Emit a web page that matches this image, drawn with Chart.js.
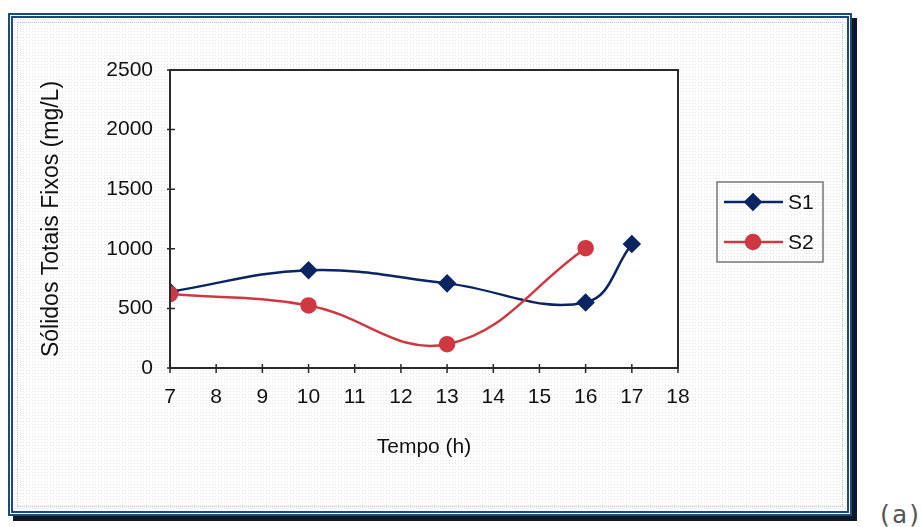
<!DOCTYPE html>
<html>
<head>
<meta charset="utf-8">
<script src="https://cdn.jsdelivr.net/npm/chart.js@4.4.1/dist/chart.umd.min.js"></script>
<style>
  html, body { margin: 0; padding: 0; background: #fff; }
  #wrap { position: relative; width: 922px; height: 527px; overflow: hidden; }
  #frame {
    position: absolute; left: 8px; top: 13px; width: 834px; height: 493px;
    border: 5px double #1d4a7a;
    box-shadow: 5px 5px 0 #0a1a2c;
    background-color: #fff;
    background-image: radial-gradient(circle, #e4e4e4 0.6px, transparent 0.9px);
    background-size: 3px 3px;
  }
  #inner {
    position: absolute; left: 4px; top: 4px; right: 4px; bottom: 4px;
    border: 1px dotted #c4c4c4;
  }
  #tag {
    position: absolute; left: 877px; top: 500px;
    font-family: "DejaVu Sans Mono", monospace; font-size: 25px; color: #555;
  }
  canvas { position: absolute; left: 0; top: 0; }
</style>
</head>
<body>
<div id="wrap">
  <div id="frame"><div id="inner"></div></div>
  <div id="tag">(a)</div>
  <canvas id="myChart" width="922" height="527"></canvas>
</div>
<script>
// Sólidos totais fixos ao longo do dia, pontos S1 e S2
var s1Hours = [7, 10, 13, 16, 17];
var s1Values = [640, 820, 710, 550, 1040];
var s2Hours = [7, 10, 13, 16];
var s2Values = [620, 525, 200, 1005];
var seriesNames = ["S1", "S2"];

var blue = "#0b2562";
var red = "#cf3840";

function toPoints(xs, ys) {
	var pts = [];
	for (var i = 0; i < xs.length; i++) {
		pts.push({ x: xs[i], y: ys[i] });
	}
	return pts;
}

var fontFamily = "'Liberation Sans', Arial, sans-serif";
var textColor = "#111";

// fundo branco da área do gráfico, moldura, marcas dos eixos e legenda
var framePlugin = {
	id: "framePlugin",
	beforeDraw: function(chart) {
		var a = chart.chartArea;
		var ctx = chart.ctx;
		ctx.save();
		ctx.fillStyle = "#fff";
		ctx.fillRect(a.left, a.top, a.right - a.left, a.bottom - a.top);
		ctx.restore();
	},
	afterDatasetsDraw: function(chart) {
		var a = chart.chartArea;
		var ctx = chart.ctx;
		var xs = chart.scales.x, ys = chart.scales.y;
		ctx.save();
		ctx.strokeStyle = "#2a2a2a";
		ctx.lineWidth = 2;
		ctx.strokeRect(a.left, a.top, a.right - a.left, a.bottom - a.top);

		ctx.lineWidth = 1.5;
		ctx.beginPath();
		ys.ticks.forEach(function(t) {
			var py = ys.getPixelForValue(t.value);
			ctx.moveTo(a.left - 3, py);
			ctx.lineTo(a.left + 5, py);
		});
		xs.ticks.forEach(function(t) {
			var px = xs.getPixelForValue(t.value);
			ctx.moveTo(px, a.bottom - 4);
			ctx.lineTo(px, a.bottom + 5);
		});
		ctx.stroke();

		// legenda
		var bx = 717, by = 182, bw = 106, bh = 80;
		ctx.strokeStyle = "#777";
		ctx.lineWidth = 1.5;
		ctx.strokeRect(bx, by, bw, bh);
		chart.data.datasets.forEach(function(ds, i) {
			var cy = by + 20 + i * 40;
			ctx.strokeStyle = ds.borderColor;
			ctx.lineWidth = 2.5;
			ctx.beginPath();
			ctx.moveTo(bx + 7, cy);
			ctx.lineTo(bx + 66, cy);
			ctx.stroke();
			ctx.fillStyle = ds.pointBackgroundColor;
			ctx.strokeStyle = ds.pointBorderColor;
			Chart.helpers.drawPoint(ctx, {
				pointStyle: ds.pointStyle,
				radius: ds.pointRadius,
				rotation: 0,
				borderWidth: 1
			}, bx + 36, cy);
			ctx.fillStyle = textColor;
			ctx.font = "21px " + fontFamily;
			ctx.textBaseline = "middle";
			ctx.textAlign = "left";
			ctx.fillText(ds.label, bx + 71, cy + 1);
		});
		ctx.restore();
	}
};

var ctx = document.getElementById("myChart");

var data = {
	datasets : [
		{
			label : seriesNames[0],
			data : toPoints(s1Hours, s1Values),
			order : 1,
			borderColor : blue,
			backgroundColor : blue,
			pointBackgroundColor : blue,
			pointBorderColor : blue,
			pointStyle : "rectRot",
			pointRadius : 7.5,
			borderWidth : 2.5,
			fill : false,
			tension : 0.4
		},
		{
			label : seriesNames[1],
			data : toPoints(s2Hours, s2Values),
			order : 0,
			borderColor : red,
			backgroundColor : red,
			pointBackgroundColor : red,
			pointBorderColor : red,
			pointStyle : "circle",
			pointRadius : 7,
			borderWidth : 2.5,
			fill : false,
			tension : 0.4
		}
	]
};

var myChart = new Chart(ctx, {
	type : "line",
	data : data,
	plugins : [framePlugin],
	options : {
		responsive : false,
		animation : false,
		devicePixelRatio : 1,
		layout : { padding : { left : 30, top : 70, right : 244, bottom : 59 } },
		plugins : {
			legend : { display : false },
			tooltip : { enabled : false }
		},
		scales : {
			x : {
				type : "linear",
				min : 7,
				max : 18,
				afterFit : function(s) { s.height = 100; },
				grid : { display : false, drawTicks : false },
				border : { display : false },
				ticks : {
					stepSize : 1,
					padding : 17,
					color : textColor,
					font : { family : fontFamily, size : 21 },
					callback : function(v) { return String(v); }
				},
				title : {
					display : true,
					text : "Tempo (h)",
					color : textColor,
					padding : { top : 0, bottom : 8 },
					font : { family : fontFamily, size : 21 }
				}
			},
			y : {
				min : 0,
				max : 2500,
				afterFit : function(s) { s.width = 140; },
				grid : { display : false, drawTicks : false },
				border : { display : false },
				ticks : {
					stepSize : 500,
					padding : 17,
					color : textColor,
					font : { family : fontFamily, size : 21 },
					callback : function(v) { return String(v); }
				},
				title : {
					display : true,
					text : "Sólidos Totais Fixos (mg/L)",
					color : textColor,
					padding : { top : 8, bottom : 0 },
					font : { family : fontFamily, size : 23 }
				}
			}
		}
	}
});
</script>
</body>
</html>
